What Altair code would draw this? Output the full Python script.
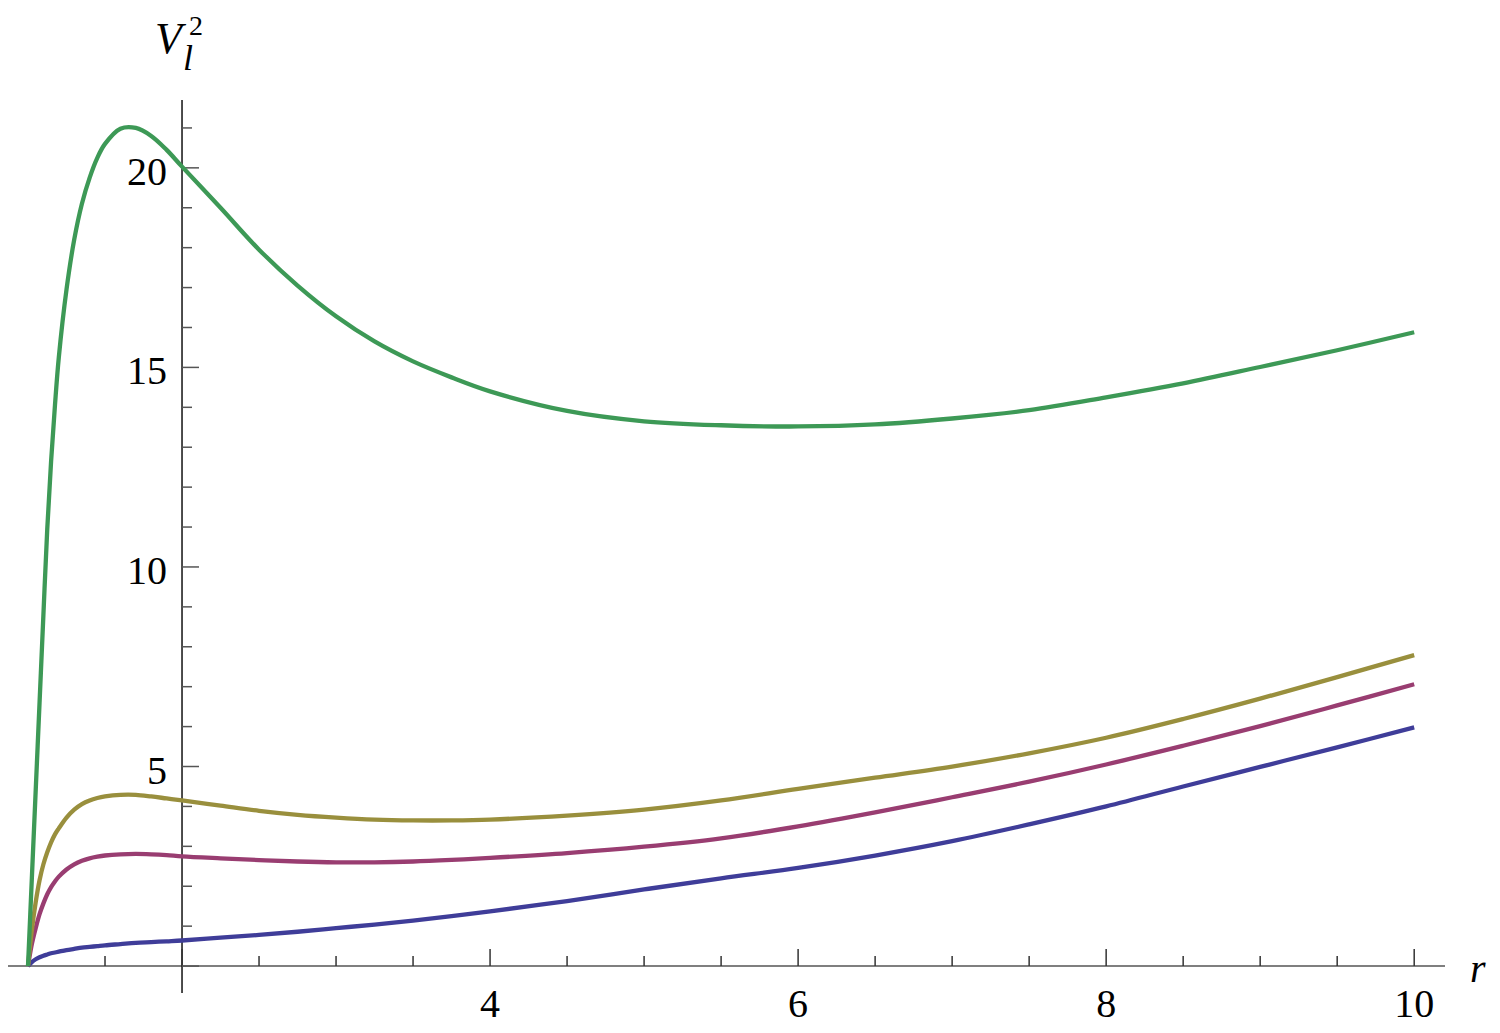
import altair as alt
import pandas as pd

# ---- data ----
r = [1.0, 1.025, 1.05, 1.075, 1.1, 1.125, 1.15, 1.175, 1.2, 1.25, 1.3, 1.35, 1.4, 1.45,
     1.5, 1.6, 1.7, 1.8, 1.9, 2.0, 2.25, 2.5, 2.75, 3.0, 3.25, 3.5, 3.75, 4.0, 4.5, 5.0,
     5.5, 6.0, 6.5, 7.0, 7.5, 8.0, 8.5, 9.0, 9.5, 10.0]

blue = [0.0, 0.10, 0.17, 0.22, 0.26, 0.29, 0.32, 0.34, 0.36, 0.40, 0.43, 0.46, 0.48, 0.50,
        0.52, 0.55, 0.58, 0.60, 0.62, 0.64, 0.71, 0.78, 0.86, 0.95, 1.04, 1.14, 1.25, 1.37,
        1.63, 1.92, 2.20, 2.46, 2.77, 3.13, 3.55, 4.00, 4.50, 4.99, 5.48, 5.98]

purple = [0.0, 0.55, 0.95, 1.30, 1.57, 1.80, 1.98, 2.12, 2.24, 2.42, 2.55, 2.64, 2.70, 2.74,
          2.77, 2.80, 2.81, 2.80, 2.78, 2.75, 2.70, 2.655, 2.62, 2.60, 2.60, 2.62, 2.66, 2.71,
          2.83, 2.99, 3.20, 3.50, 3.85, 4.23, 4.62, 5.05, 5.52, 6.01, 6.53, 7.06]

olive = [0.0, 0.90, 1.60, 2.15, 2.55, 2.85, 3.10, 3.30, 3.45, 3.72, 3.92, 4.06, 4.15, 4.21,
         4.25, 4.29, 4.29, 4.25, 4.20, 4.15, 4.02, 3.89, 3.79, 3.72, 3.67, 3.65, 3.65, 3.67,
         3.77, 3.92, 4.15, 4.44, 4.72, 5.00, 5.33, 5.72, 6.19, 6.70, 7.24, 7.79]

green = [0.0, 2.2, 4.4, 6.6, 8.8, 10.95, 12.65, 14.05, 15.25, 16.95, 18.2, 19.1, 19.75, 20.25,
         20.6, 20.98, 21.0, 20.8, 20.45, 20.03, 19.0, 17.95, 17.05, 16.28, 15.65, 15.15, 14.75,
         14.4, 13.91, 13.65, 13.55, 13.52, 13.57, 13.72, 13.93, 14.25, 14.6, 15.01, 15.43, 15.88]

series_names = ["1", "2", "3", "4"]
series_values = [blue, purple, olive, green]
series_colors = ["#3f3d99", "#993d71", "#998f3d", "#3d9956"]

x_major_ticks = [2, 4, 6, 8, 10]
x_minor_ticks = [1.5, 2.5, 3, 3.5, 4.5, 5, 5.5, 6.5, 7, 7.5, 8.5, 9, 9.5]
x_label_values = [4, 6, 8, 10]
x_label_texts = ["4", "6", "8", "10"]

y_major_ticks = [0, 5, 10, 15, 20]
y_minor_ticks = [1, 2, 3, 4, 6, 7, 8, 9, 11, 12, 13, 14, 16, 17, 18, 19, 21]
y_label_values = [5, 10, 15, 20]
y_label_texts = ["5", "10", "15", "20"]

X_DOMAIN = [1.0, 10.2]
Y_DOMAIN = [-0.675, 21.7]
X_AXIS_START = 0.82
X_CROSS = 2
Y_CROSS = 0

FONT = "Liberation Serif, Times New Roman, DejaVu Serif, serif"

# ---- build tables ----
rows = []
for name, vals in zip(series_names, series_values):
    for rv, v in zip(r, vals):
        rows.append({"r": rv, "v": v, "series": name})
df = pd.DataFrame(rows)

xs = alt.Scale(domain=X_DOMAIN, nice=False, zero=False)
ys = alt.Scale(domain=Y_DOMAIN, nice=False, zero=False)

lines = alt.Chart(df).mark_line(strokeWidth=4.3, interpolate="catmull-rom").encode(
    x=alt.X("r:Q", scale=xs, axis=None),
    y=alt.Y("v:Q", scale=ys, axis=None),
    color=alt.Color("series:N", scale=alt.Scale(domain=series_names, range=series_colors),
                    legend=None),
)

x_axis = alt.Chart(pd.DataFrame({"a": [X_AXIS_START], "b": [X_DOMAIN[1]], "c": [Y_CROSS]})).mark_rule(
    color="#555555", strokeWidth=1.5
).encode(
    x=alt.X("a:Q", scale=xs, axis=None), x2="b:Q", y=alt.Y("c:Q", scale=ys, axis=None)
)

y_axis = alt.Chart(pd.DataFrame({"a": [X_CROSS], "b": [Y_DOMAIN[0]], "c": [Y_DOMAIN[1]]})).mark_rule(
    color="#111111", strokeWidth=1.5
).encode(
    x=alt.X("a:Q", scale=xs, axis=None), y=alt.Y("b:Q", scale=ys, axis=None), y2="c:Q"
)


def xticks(vals, length):
    return alt.Chart(pd.DataFrame({"t": vals})).mark_rule(
        color="#333333", strokeWidth=1.5, y2Offset=-length
    ).encode(
        x=alt.X("t:Q", scale=xs, axis=None),
        y=alt.Y(datum=Y_CROSS, scale=ys, axis=None),
        y2=alt.datum(Y_CROSS),
    )


def yticks(vals, length):
    return alt.Chart(pd.DataFrame({"t": vals})).mark_rule(
        color="#555555", strokeWidth=1.5, x2Offset=length
    ).encode(
        y=alt.Y("t:Q", scale=ys, axis=None),
        x=alt.X(datum=X_CROSS, scale=xs, axis=None),
        x2=alt.datum(X_CROSS),
    )


x_labels = alt.Chart(pd.DataFrame({"t": x_label_values, "s": x_label_texts})).mark_text(
    font=FONT, fontSize=40, align="center", baseline="alphabetic", dy=51, color="black"
).encode(
    x=alt.X("t:Q", scale=xs, axis=None),
    y=alt.Y(datum=Y_CROSS, scale=ys, axis=None),
    text="s:N",
)

y_labels = alt.Chart(pd.DataFrame({"t": y_label_values, "s": y_label_texts})).mark_text(
    font=FONT, fontSize=40, align="right", baseline="alphabetic", dx=-15, dy=17, color="black"
).encode(
    y=alt.Y("t:Q", scale=ys, axis=None),
    x=alt.X(datum=X_CROSS, scale=xs, axis=None),
    text="s:N",
)

one = pd.DataFrame({"k": [0]})


def title_text(txt, xval, yval, dx, dy, size, style):
    return alt.Chart(one).mark_text(
        font=FONT, fontSize=size, fontStyle=style, align="left", baseline="alphabetic",
        dx=dx, dy=dy, color="black"
    ).encode(
        x=alt.X(datum=xval, scale=xs, axis=None),
        y=alt.Y(datum=yval, scale=ys, axis=None),
        text=alt.value(txt),
    )


r_title = title_text("r", X_DOMAIN[1], Y_CROSS, 25, 16, 40, "italic")
v_title = title_text("V", X_CROSS, Y_DOMAIN[1], -27, -47, 44, "italic")
l_title = title_text("l", X_CROSS, Y_DOMAIN[1], 1, -30, 36, "italic")
sq_title = title_text("2", X_CROSS, Y_DOMAIN[1], 7, -65, 28, "normal")

chart = alt.layer(
    x_axis, y_axis,
    xticks(x_major_ticks, 17), xticks(x_minor_ticks, 10),
    yticks(y_major_ticks, 17), yticks(y_minor_ticks, 10),
    lines,
    x_labels, y_labels, r_title, v_title, l_title, sq_title,
).properties(
    width=1417,
    height=893,
    autosize=alt.AutoSizeParams(type="none"),
    padding={"left": 20, "top": 92, "right": 47, "bottom": 36},
    background="white",
).configure_view(stroke=None)

chart.save("out.html", embed_options={"renderer": "svg", "actions": False})
